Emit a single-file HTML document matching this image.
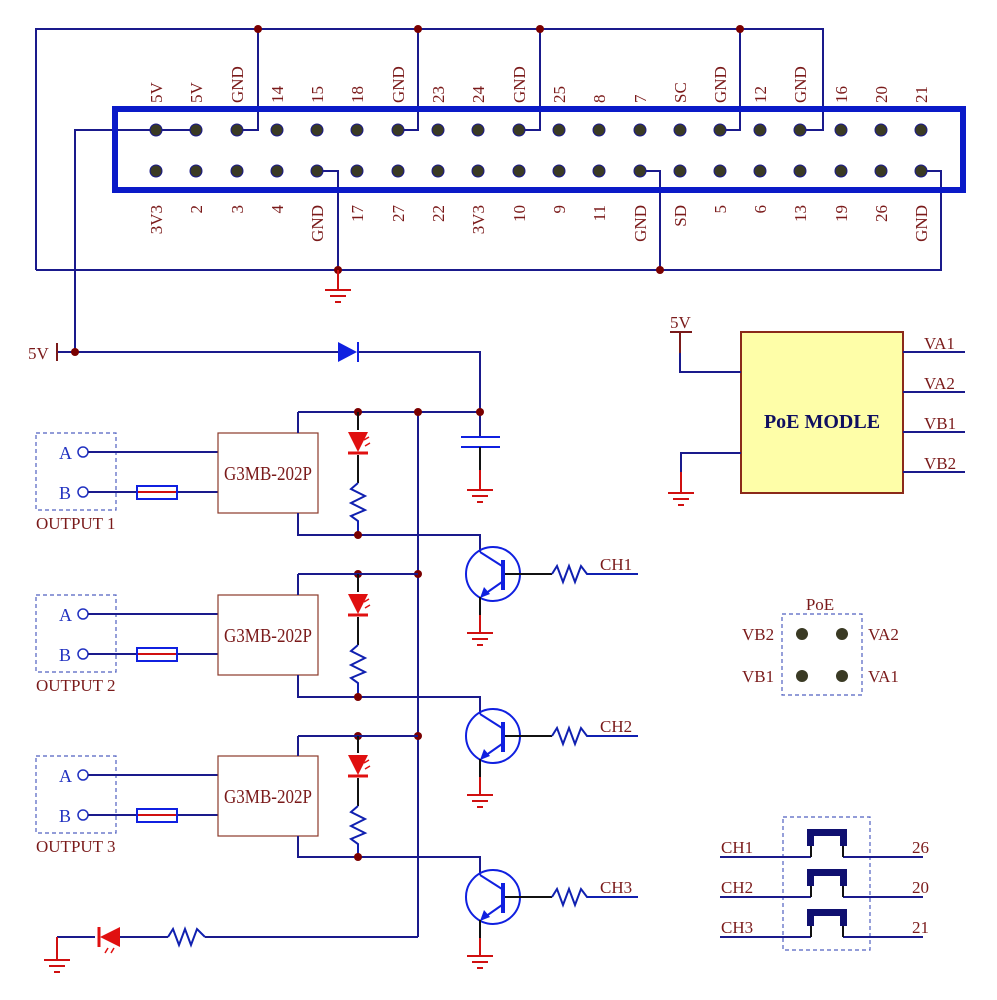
<!DOCTYPE html>
<html><head><meta charset="utf-8"><style>
html,body{margin:0;padding:0;background:#fff}
svg{display:block}
text{font-family:"Liberation Serif",serif;fill:#7a1a1a}
</style></head><body>
<svg width="997" height="1000" viewBox="0 0 997 1000" xmlns="http://www.w3.org/2000/svg">
<defs>
<g id="gnd"><line x1="-13" y1="0" x2="13" y2="0" stroke="#d01010" stroke-width="2"/><line x1="-8" y1="6" x2="8" y2="6" stroke="#d01010" stroke-width="2"/><line x1="-3" y1="12" x2="3" y2="12" stroke="#d01010" stroke-width="2"/></g>
<g id="jd"><circle r="4" fill="#7a0000"/></g>
</defs>
<g fill="none" stroke="#1a1a8c" stroke-width="2">
<polyline points="36,270 36,29 823,29 823,130 800,130"/>
<polyline points="36,270 941,270 941,171 921,171"/>
<polyline points="258,29 258,130 237,130"/>
<polyline points="418,29 418,130 398,130"/>
<polyline points="540,29 540,130 519,130"/>
<polyline points="740,29 740,130 720,130"/>
<polyline points="317,171 338,171 338,270"/>
<polyline points="640,171 660,171 660,270"/>
<polyline points="196,130 75,130 75,352"/>
<line x1="57" y1="352" x2="338" y2="352"/>
<polyline points="358,352 480,352 480,437"/>
<line x1="298" y1="412" x2="480" y2="412"/>
<line x1="418" y1="412" x2="418" y2="937"/>
<polyline points="418,937 205,937"/>
<line x1="57" y1="937" x2="95" y2="937"/>
<line x1="120" y1="937" x2="168" y2="937"/>
</g>
<rect x="115" y="109" width="848" height="81" fill="none" stroke="#0a1ac8" stroke-width="6"/>
<g fill="#3a3a24" stroke="#1a1a8c" stroke-width="1">
<circle cx="156" cy="130" r="6"/><circle cx="196" cy="130" r="6"/><circle cx="237" cy="130" r="6"/><circle cx="277" cy="130" r="6"/><circle cx="317" cy="130" r="6"/><circle cx="357" cy="130" r="6"/><circle cx="398" cy="130" r="6"/><circle cx="438" cy="130" r="6"/><circle cx="478" cy="130" r="6"/><circle cx="519" cy="130" r="6"/><circle cx="559" cy="130" r="6"/><circle cx="599" cy="130" r="6"/><circle cx="640" cy="130" r="6"/><circle cx="680" cy="130" r="6"/><circle cx="720" cy="130" r="6"/><circle cx="760" cy="130" r="6"/><circle cx="800" cy="130" r="6"/><circle cx="841" cy="130" r="6"/><circle cx="881" cy="130" r="6"/><circle cx="921" cy="130" r="6"/>
<circle cx="156" cy="171" r="6"/><circle cx="196" cy="171" r="6"/><circle cx="237" cy="171" r="6"/><circle cx="277" cy="171" r="6"/><circle cx="317" cy="171" r="6"/><circle cx="357" cy="171" r="6"/><circle cx="398" cy="171" r="6"/><circle cx="438" cy="171" r="6"/><circle cx="478" cy="171" r="6"/><circle cx="519" cy="171" r="6"/><circle cx="559" cy="171" r="6"/><circle cx="599" cy="171" r="6"/><circle cx="640" cy="171" r="6"/><circle cx="680" cy="171" r="6"/><circle cx="720" cy="171" r="6"/><circle cx="760" cy="171" r="6"/><circle cx="800" cy="171" r="6"/><circle cx="841" cy="171" r="6"/><circle cx="881" cy="171" r="6"/><circle cx="921" cy="171" r="6"/>
</g>
<g font-size="17">
<text transform="translate(162,103) rotate(-90)">5V</text>
<text transform="translate(202,103) rotate(-90)">5V</text>
<text transform="translate(243,103) rotate(-90)">GND</text>
<text transform="translate(283,103) rotate(-90)">14</text>
<text transform="translate(323,103) rotate(-90)">15</text>
<text transform="translate(363,103) rotate(-90)">18</text>
<text transform="translate(404,103) rotate(-90)">GND</text>
<text transform="translate(444,103) rotate(-90)">23</text>
<text transform="translate(484,103) rotate(-90)">24</text>
<text transform="translate(525,103) rotate(-90)">GND</text>
<text transform="translate(565,103) rotate(-90)">25</text>
<text transform="translate(605,103) rotate(-90)">8</text>
<text transform="translate(646,103) rotate(-90)">7</text>
<text transform="translate(686,103) rotate(-90)">SC</text>
<text transform="translate(726,103) rotate(-90)">GND</text>
<text transform="translate(766,103) rotate(-90)">12</text>
<text transform="translate(806,103) rotate(-90)">GND</text>
<text transform="translate(847,103) rotate(-90)">16</text>
<text transform="translate(887,103) rotate(-90)">20</text>
<text transform="translate(927,103) rotate(-90)">21</text>
</g>
<g font-size="17" text-anchor="end">
<text transform="translate(162,205) rotate(-90)">3V3</text>
<text transform="translate(202,205) rotate(-90)">2</text>
<text transform="translate(243,205) rotate(-90)">3</text>
<text transform="translate(283,205) rotate(-90)">4</text>
<text transform="translate(323,205) rotate(-90)">GND</text>
<text transform="translate(363,205) rotate(-90)">17</text>
<text transform="translate(404,205) rotate(-90)">27</text>
<text transform="translate(444,205) rotate(-90)">22</text>
<text transform="translate(484,205) rotate(-90)">3V3</text>
<text transform="translate(525,205) rotate(-90)">10</text>
<text transform="translate(565,205) rotate(-90)">9</text>
<text transform="translate(605,205) rotate(-90)">11</text>
<text transform="translate(646,205) rotate(-90)">GND</text>
<text transform="translate(686,205) rotate(-90)">SD</text>
<text transform="translate(726,205) rotate(-90)">5</text>
<text transform="translate(766,205) rotate(-90)">6</text>
<text transform="translate(806,205) rotate(-90)">13</text>
<text transform="translate(847,205) rotate(-90)">19</text>
<text transform="translate(887,205) rotate(-90)">26</text>
<text transform="translate(927,205) rotate(-90)">GND</text>
</g>
<use href="#jd" x="258" y="29"/><use href="#jd" x="418" y="29"/><use href="#jd" x="540" y="29"/><use href="#jd" x="740" y="29"/>
<use href="#jd" x="338" y="270"/><use href="#jd" x="660" y="270"/>
<line x1="338" y1="270" x2="338" y2="290" stroke="#d01010" stroke-width="2"/><use href="#gnd" x="338" y="290"/>
<text x="28" y="359" font-size="17">5V</text>
<line x1="57" y1="343" x2="57" y2="361" stroke="#7a1a1a" stroke-width="2"/>
<use href="#jd" x="75" y="352"/>
<polygon points="338,342 338,362 357,352" fill="#1020e0"/><line x1="358" y1="342" x2="358" y2="362" stroke="#1020e0" stroke-width="2"/>
<use href="#jd" x="480" y="412"/><use href="#jd" x="418" y="412"/><use href="#jd" x="358" y="412"/>
<line x1="461" y1="437" x2="500" y2="437" stroke="#1020e0" stroke-width="2"/>
<line x1="461" y1="447" x2="500" y2="447" stroke="#1020e0" stroke-width="2"/>
<line x1="480" y1="447" x2="480" y2="470" stroke="#111" stroke-width="2"/>
<line x1="480" y1="470" x2="480" y2="490" stroke="#d01010" stroke-width="2"/><use href="#gnd" x="480" y="490"/>

<g id="ch">
<rect x="36" y="433" width="80" height="77" fill="none" stroke="#5060c0" stroke-width="1.2" stroke-dasharray="4,3"/>
<text x="59" y="459" font-size="18" style="fill:#2030c0">A</text>
<text x="59" y="499" font-size="18" style="fill:#2030c0">B</text>
<circle cx="83" cy="452" r="5" fill="#fff" stroke="#2030c0" stroke-width="1.5"/>
<circle cx="83" cy="492" r="5" fill="#fff" stroke="#2030c0" stroke-width="1.5"/>
<line x1="88" y1="452" x2="218" y2="452" stroke="#1a1a8c" stroke-width="2"/>
<line x1="88" y1="492" x2="218" y2="492" stroke="#1a1a8c" stroke-width="2"/>
<rect x="137" y="486" width="40" height="13" fill="#fff" stroke="#1020e0" stroke-width="2"/>
<line x1="138" y1="492" x2="176" y2="492" stroke="#d01010" stroke-width="2"/>
<rect x="218" y="433" width="100" height="80" fill="#fff" stroke="#8b3a2a" stroke-width="1.2"/>
<text x="224" y="480" font-size="20" textLength="88" lengthAdjust="spacingAndGlyphs">G3MB-202P</text>
<polyline points="298,433 298,412" fill="none" stroke="#1a1a8c" stroke-width="2"/>
<polyline points="298,513 298,535 480,535 480,552" fill="none" stroke="#1a1a8c" stroke-width="2"/>
<line x1="358" y1="412" x2="358" y2="430" stroke="#111" stroke-width="2"/>
<polygon points="348,432 368,432 358,452" fill="#e01010"/><line x1="348" y1="453" x2="368" y2="453" stroke="#e01010" stroke-width="3"/>
<path d="M364,440 l5,-3 M365,446 l5,-3" stroke="#e01010" stroke-width="1.5"/>
<line x1="358" y1="455" x2="358" y2="483" stroke="#111" stroke-width="2"/>
<polyline points="358,483 351,489 365,496 351,503 365,510 351,516 358,521 358,535" fill="none" stroke="#1020b0" stroke-width="2"/>
<use href="#jd" x="358" y="535"/>
<text x="36" y="529" font-size="17">OUTPUT 1</text>
<circle cx="493" cy="574" r="27" fill="none" stroke="#1020e0" stroke-width="2"/>
<line x1="503" y1="560" x2="503" y2="590" stroke="#1020e0" stroke-width="4"/>
<line x1="480" y1="552" x2="502" y2="566" stroke="#1020e0" stroke-width="2"/>
<line x1="502" y1="582" x2="482" y2="596" stroke="#1020e0" stroke-width="2"/>
<polygon points="480,598 484,587 490,594" fill="#1020e0"/>
<line x1="480" y1="597" x2="480" y2="615" stroke="#111" stroke-width="2"/>
<line x1="480" y1="615" x2="480" y2="633" stroke="#d01010" stroke-width="2"/><use href="#gnd" x="480" y="633"/>
<line x1="505" y1="574" x2="552" y2="574" stroke="#111" stroke-width="2"/>
<polyline points="552,574 557,566 563,582 569,566 575,582 581,566 587,574 638,574" fill="none" stroke="#1020b0" stroke-width="2"/>
<text x="600" y="570" font-size="17">CH1</text>
</g>
<use href="#jd" x="418" y="574"/><use href="#jd" x="358" y="574"/>
<line x1="298" y1="574" x2="418" y2="574" stroke="#1a1a8c" stroke-width="2"/>
<use href="#jd" x="418" y="736"/><use href="#jd" x="358" y="736"/>
<line x1="298" y1="736" x2="418" y2="736" stroke="#1a1a8c" stroke-width="2"/>
<g transform="translate(0,162)">
<rect x="36" y="433" width="80" height="77" fill="none" stroke="#5060c0" stroke-width="1.2" stroke-dasharray="4,3"/>
<text x="59" y="459" font-size="18" style="fill:#2030c0">A</text><text x="59" y="499" font-size="18" style="fill:#2030c0">B</text>
<circle cx="83" cy="452" r="5" fill="#fff" stroke="#2030c0" stroke-width="1.5"/><circle cx="83" cy="492" r="5" fill="#fff" stroke="#2030c0" stroke-width="1.5"/>
<line x1="88" y1="452" x2="218" y2="452" stroke="#1a1a8c" stroke-width="2"/><line x1="88" y1="492" x2="218" y2="492" stroke="#1a1a8c" stroke-width="2"/>
<rect x="137" y="486" width="40" height="13" fill="#fff" stroke="#1020e0" stroke-width="2"/><line x1="138" y1="492" x2="176" y2="492" stroke="#d01010" stroke-width="2"/>
<rect x="218" y="433" width="100" height="80" fill="#fff" stroke="#8b3a2a" stroke-width="1.2"/>
<text x="224" y="480" font-size="20" textLength="88" lengthAdjust="spacingAndGlyphs">G3MB-202P</text>
<polyline points="298,433 298,412" fill="none" stroke="#1a1a8c" stroke-width="2"/>
<polyline points="298,513 298,535 480,535 480,552" fill="none" stroke="#1a1a8c" stroke-width="2"/>
<line x1="358" y1="412" x2="358" y2="430" stroke="#111" stroke-width="2"/>
<polygon points="348,432 368,432 358,452" fill="#e01010"/><line x1="348" y1="453" x2="368" y2="453" stroke="#e01010" stroke-width="3"/>
<path d="M364,440 l5,-3 M365,446 l5,-3" stroke="#e01010" stroke-width="1.5"/>
<line x1="358" y1="455" x2="358" y2="483" stroke="#111" stroke-width="2"/>
<polyline points="358,483 351,489 365,496 351,503 365,510 351,516 358,521 358,535" fill="none" stroke="#1020b0" stroke-width="2"/>
<use href="#jd" x="358" y="535"/>
<text x="36" y="529" font-size="17">OUTPUT 2</text>
<circle cx="493" cy="574" r="27" fill="none" stroke="#1020e0" stroke-width="2"/>
<line x1="503" y1="560" x2="503" y2="590" stroke="#1020e0" stroke-width="4"/>
<line x1="480" y1="552" x2="502" y2="566" stroke="#1020e0" stroke-width="2"/><line x1="502" y1="582" x2="482" y2="596" stroke="#1020e0" stroke-width="2"/>
<polygon points="480,598 484,587 490,594" fill="#1020e0"/>
<line x1="480" y1="597" x2="480" y2="615" stroke="#111" stroke-width="2"/>
<line x1="480" y1="615" x2="480" y2="633" stroke="#d01010" stroke-width="2"/><use href="#gnd" x="480" y="633"/>
<line x1="505" y1="574" x2="552" y2="574" stroke="#111" stroke-width="2"/>
<polyline points="552,574 557,566 563,582 569,566 575,582 581,566 587,574 638,574" fill="none" stroke="#1020b0" stroke-width="2"/>
<text x="600" y="570" font-size="17">CH2</text>
</g>
<g transform="translate(0,323)">
<rect x="36" y="433" width="80" height="77" fill="none" stroke="#5060c0" stroke-width="1.2" stroke-dasharray="4,3"/>
<text x="59" y="459" font-size="18" style="fill:#2030c0">A</text><text x="59" y="499" font-size="18" style="fill:#2030c0">B</text>
<circle cx="83" cy="452" r="5" fill="#fff" stroke="#2030c0" stroke-width="1.5"/><circle cx="83" cy="492" r="5" fill="#fff" stroke="#2030c0" stroke-width="1.5"/>
<line x1="88" y1="452" x2="218" y2="452" stroke="#1a1a8c" stroke-width="2"/><line x1="88" y1="492" x2="218" y2="492" stroke="#1a1a8c" stroke-width="2"/>
<rect x="137" y="486" width="40" height="13" fill="#fff" stroke="#1020e0" stroke-width="2"/><line x1="138" y1="492" x2="176" y2="492" stroke="#d01010" stroke-width="2"/>
<rect x="218" y="433" width="100" height="80" fill="#fff" stroke="#8b3a2a" stroke-width="1.2"/>
<text x="224" y="480" font-size="20" textLength="88" lengthAdjust="spacingAndGlyphs">G3MB-202P</text>
<polyline points="298,433 298,413" fill="none" stroke="#1a1a8c" stroke-width="2"/>
<polyline points="298,513 298,534 480,534 480,552" fill="none" stroke="#1a1a8c" stroke-width="2"/>
<line x1="358" y1="413" x2="358" y2="430" stroke="#111" stroke-width="2"/>
<polygon points="348,432 368,432 358,452" fill="#e01010"/><line x1="348" y1="453" x2="368" y2="453" stroke="#e01010" stroke-width="3"/>
<path d="M364,440 l5,-3 M365,446 l5,-3" stroke="#e01010" stroke-width="1.5"/>
<line x1="358" y1="455" x2="358" y2="483" stroke="#111" stroke-width="2"/>
<polyline points="358,483 351,489 365,496 351,503 365,510 351,516 358,521 358,534" fill="none" stroke="#1020b0" stroke-width="2"/>
<use href="#jd" x="358" y="534"/>
<text x="36" y="529" font-size="17">OUTPUT 3</text>
<circle cx="493" cy="574" r="27" fill="none" stroke="#1020e0" stroke-width="2"/>
<line x1="503" y1="560" x2="503" y2="590" stroke="#1020e0" stroke-width="4"/>
<line x1="480" y1="552" x2="502" y2="566" stroke="#1020e0" stroke-width="2"/><line x1="502" y1="582" x2="482" y2="596" stroke="#1020e0" stroke-width="2"/>
<polygon points="480,598 484,587 490,594" fill="#1020e0"/>
<line x1="480" y1="597" x2="480" y2="615" stroke="#111" stroke-width="2"/>
<line x1="480" y1="615" x2="480" y2="633" stroke="#d01010" stroke-width="2"/><use href="#gnd" x="480" y="633"/>
<line x1="505" y1="574" x2="552" y2="574" stroke="#111" stroke-width="2"/>
<polyline points="552,574 557,566 563,582 569,566 575,582 581,566 587,574 638,574" fill="none" stroke="#1020b0" stroke-width="2"/>
<text x="600" y="570" font-size="17">CH3</text>
</g>
<polyline points="168,937 173,929 179,945 185,929 191,945 197,929 205,937" fill="none" stroke="#1020b0" stroke-width="2"/>
<polygon points="120,927 120,947 100,937" fill="#e01010"/><line x1="99" y1="927" x2="99" y2="947" stroke="#e01010" stroke-width="3"/>
<path d="M108,948 l-3,5 M114,948 l-3,5" stroke="#e01010" stroke-width="1.5"/>
<line x1="57" y1="937" x2="57" y2="960" stroke="#d01010" stroke-width="2"/><use href="#gnd" x="57" y="960"/>
<rect x="741" y="332" width="162" height="161" fill="#fefea8" stroke="#8b2a1a" stroke-width="2"/>
<text x="822" y="428" font-size="20" font-weight="bold" text-anchor="middle" style="fill:#101060">PoE MODLE</text>
<g stroke="#1a1a8c" stroke-width="2">
<line x1="903" y1="352" x2="965" y2="352"/><line x1="903" y1="392" x2="965" y2="392"/><line x1="903" y1="432" x2="965" y2="432"/><line x1="903" y1="472" x2="965" y2="472"/>
<polyline points="680,352 680,372 741,372" fill="none"/>
<polyline points="741,453 681,453 681,472" fill="none"/>
</g>
<line x1="670" y1="332" x2="692" y2="332" stroke="#7a1a1a" stroke-width="2"/>
<line x1="680" y1="332" x2="680" y2="353" stroke="#7a1a1a" stroke-width="2"/>
<text x="670" y="328" font-size="17">5V</text>
<line x1="681" y1="472" x2="681" y2="493" stroke="#d01010" stroke-width="2"/><use href="#gnd" x="681" y="493"/>
<g font-size="17"><text x="924" y="349">VA1</text><text x="924" y="389">VA2</text><text x="924" y="429">VB1</text><text x="924" y="469">VB2</text></g>
<rect x="782" y="614" width="80" height="81" fill="none" stroke="#5060c0" stroke-width="1.2" stroke-dasharray="4,3"/>
<text x="820" y="610" font-size="17" text-anchor="middle">PoE</text>
<g fill="#3a3a24"><circle cx="802" cy="634" r="6"/><circle cx="842" cy="634" r="6"/><circle cx="802" cy="676" r="6"/><circle cx="842" cy="676" r="6"/></g>
<g font-size="17"><text x="742" y="640">VB2</text><text x="868" y="640">VA2</text><text x="742" y="682">VB1</text><text x="868" y="682">VA1</text></g>
<rect x="783" y="817" width="87" height="133" fill="none" stroke="#5060c0" stroke-width="1.2" stroke-dasharray="4,3"/>
<g id="jp">
<line x1="720" y1="857" x2="811" y2="857" stroke="#1a1a8c" stroke-width="2"/>
<line x1="843" y1="857" x2="923" y2="857" stroke="#1a1a8c" stroke-width="2"/>
<line x1="811" y1="846" x2="811" y2="857" stroke="#111" stroke-width="2"/>
<line x1="843" y1="846" x2="843" y2="857" stroke="#111" stroke-width="2"/>
<path d="M807,846 V829 H847 V846 H840 V836 H814 V846 Z" fill="#101070"/>
</g>
<use href="#jp" y="40"/><use href="#jp" y="80"/>
<g font-size="17"><text x="721" y="853">CH1</text><text x="721" y="893">CH2</text><text x="721" y="933">CH3</text>
<text x="912" y="853">26</text><text x="912" y="893">20</text><text x="912" y="933">21</text></g>
</svg>
</body></html>
